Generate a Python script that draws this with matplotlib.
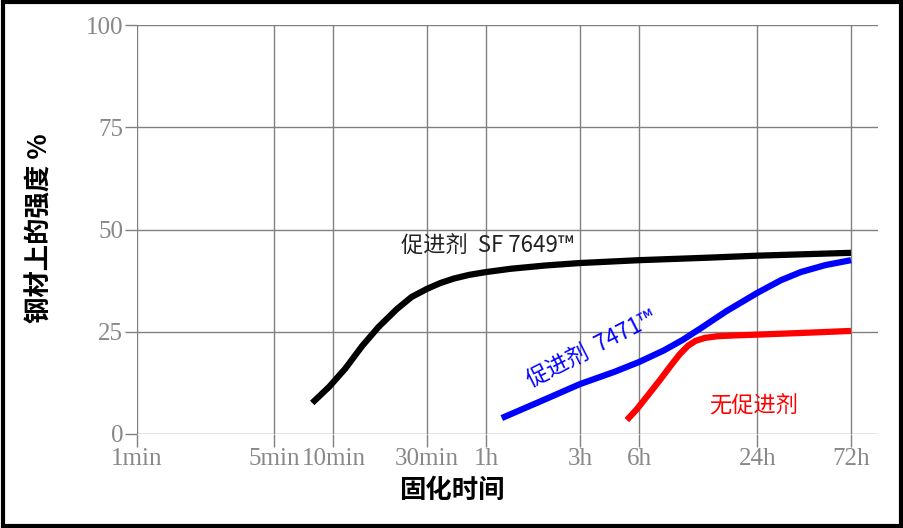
import matplotlib.pyplot as plt
from matplotlib.patches import Rectangle

plt.rcParams["font.family"] = ["Noto Sans CJK SC", "DejaVu Sans"]

# time in minutes
tick_pos = [1, 5, 10, 30, 60, 180, 360, 1440, 4320]
tick_labels = ["1min", "5min", "10min", "30min", "1h", "3h", "6h", "24h", "72h"]
y_ticks = [0, 25, 50, 75, 100]

sf_x = [7.8, 9.5, 11.5, 14, 17, 21, 25, 30, 35, 41, 49, 60, 80, 120, 180, 360, 800, 1440, 4320]
sf_y = [7.6, 11.5, 16, 21.5, 26.2, 30.5, 33.5, 35.5, 36.9, 38.0, 38.9, 39.6, 40.4, 41.2, 41.8, 42.5, 43.1, 43.6, 44.3]

b_x = [72, 120, 180, 270, 360, 480, 600, 750, 1000, 1440, 1900, 2400, 3200, 4320]
b_y = [3.9, 8.5, 12.2, 15.2, 17.6, 20.4, 23.0, 26.0, 30.0, 34.5, 37.6, 39.6, 41.3, 42.5]

r_x = [312, 350, 400, 460, 520, 580, 640, 700, 780, 900, 1100, 1440, 2400, 4320]
r_y = [3.4, 6.0, 9.5, 13.2, 16.6, 19.5, 21.6, 22.8, 23.5, 23.9, 24.1, 24.3, 24.7, 25.2]

W, H = 904, 528
fig = plt.figure(figsize=(W / 100, H / 100), dpi=100)
ax = fig.add_axes([137 / W, 1 - 434 / H, (878 - 137) / W, (434 - 25) / H])

ax.plot(sf_x, sf_y, color="black", lw=4.5, solid_capstyle="butt")
ax.plot(b_x, b_y, color="blue", lw=4.5, solid_capstyle="butt")
ax.plot(r_x, r_y, color="red", lw=4.5, solid_capstyle="butt")

ax.set_xscale("log")
ax.set_xlim(1, 5930)
ax.set_ylim(0, 100)
ax.set_xticks(tick_pos)
ax.set_xticklabels(tick_labels)
ax.minorticks_off()
ax.set_yticks(y_ticks)
ax.grid(True, color="#808080", lw=1)
ax.tick_params(colors="#808080", labelcolor="#888888", length=9, width=1, labelsize=18, pad=1)
for lbl in ax.get_xticklabels() + ax.get_yticklabels():
    lbl.set_family("Liberation Serif")
for s in ax.spines.values():
    s.set_visible(False)
ax.set_axisbelow(True)

ax.text(22, 44.5, "促进剂  SF 7649\u2122", fontsize=16, color="#222222")
ax.text(92, 11.5, "促进剂  7471\u2122", fontsize=16, color="blue", rotation=27)
ax.text(820, 5.5, "无促进剂", fontsize=16, color="red")

fig.text(452 / W, 1 - 490 / H, "固化时间", fontsize=19, fontweight="bold", ha="center", va="center")
fig.text(40 / W, 1 - 228 / H, "钢材上的强度 %", fontsize=19, fontweight="bold", rotation=90, ha="center", va="center")

fig.patches.append(Rectangle((0.003, 0.004), 0.994, 0.992, transform=fig.transFigure,
                             fill=False, edgecolor="black", lw=3))
fig.savefig("out.png", dpi=100)
